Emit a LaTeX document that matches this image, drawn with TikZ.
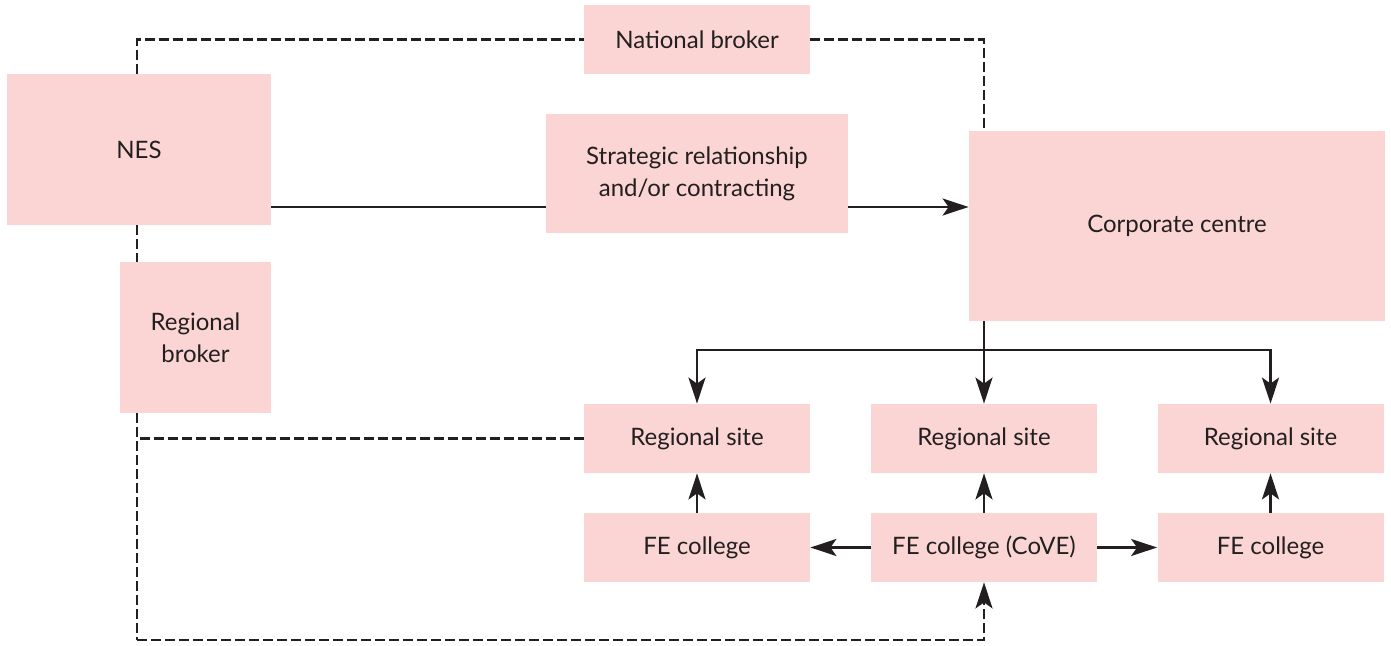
\documentclass[tikz,border=0pt]{standalone}
\usepackage{fontspec}
\setmainfont{Lato}
\usepackage{xcolor}
\usetikzlibrary{arrows.meta}

\definecolor{boxpink}{RGB}{250,213,211}
\definecolor{inkgrey}{RGB}{35,31,32}

\tikzset{
  unit/.style={rectangle, fill=boxpink, draw=none, inner sep=0pt, align=center,
    text=inkgrey, font=\fontsize{12}{16}\selectfont},
  smallbox/.style={unit, minimum width=113pt, minimum height=34.5pt},
  link/.style={draw=inkgrey, line width=1.25pt},
  dashlink/.style={link, dash pattern=on 5pt off 2pt},
  arr/.style={-{Stealth[length=13pt,width=8.5pt,inset=3pt]}}
}

\begin{document}
\begin{tikzpicture}[x=0.5pt, y=-0.5pt]
\useasboundingbox (0,0) rectangle (1391,646);

\node[smallbox] (natb) at (697,39.5) {National broker};
\node[unit, minimum width=132pt, minimum height=75.5pt] (nes) at (139,149.5) {NES};
\node[unit, minimum width=151pt, minimum height=59.5pt] (strat) at (697,173.5) {Strategic relationship\\and/or contracting};
\node[unit, minimum width=208pt, minimum height=95pt] (corp) at (1177,226) {Corporate centre};
\node[unit, minimum width=75.5pt, minimum height=75.5pt] (regb) at (195.5,337.5) {Regional\\broker};

\node[smallbox] (rs1) at (697,438.5) {Regional site};
\node[smallbox] (rs2) at (984,438.5) {Regional site};
\node[smallbox] (rs3) at (1270.5,438.5) {Regional site};
\node[smallbox] (fe1) at (697,547.5) {FE college};
\node[smallbox] (cove) at (984,547.5) {FE college (CoVE)};
\node[smallbox] (fe3) at (1270.5,547.5) {FE college};

\coordinate (spine) at (137,0);
\coordinate (mid) at (700,207);
\coordinate (bus) at (984,350);
\coordinate (base) at (137,640);

% brokers
\draw[dashlink] (spine |- nes.north) |- (natb.west);
\draw[dashlink] (natb.east) -| (corp.north -| cove);
\draw[dashlink] (spine |- nes.south) -- (spine |- regb.north);
\draw[dashlink] (spine |- regb.south) -- (base);
\draw[dashlink] (rs1.west) -- (rs1.west -| spine);
\draw[dashlink, arr] (base) -| (cove.south);

% contracting
\draw[link] (nes.east |- mid) -- (strat.west |- mid);
\draw[link, arr] (strat.east |- mid) -- (corp.west |- mid);

% centre to sites
\draw[link, arr] (corp.south -| rs2) -- (rs2.north);
\draw[link, arr] (bus) -| (rs1.north);
\draw[link, arr] (bus) -| (rs3.north);

% colleges
\draw[link, arr] (fe1.north) -- (rs1.south);
\draw[link, arr] (cove.north) -- (rs2.south);
\draw[link, arr] (fe3.north) -- (rs3.south);
\draw[link, arr] (cove.west) -- (fe1.east);
\draw[link, arr] (cove.east) -- (fe3.west);
\end{tikzpicture}
\end{document}
